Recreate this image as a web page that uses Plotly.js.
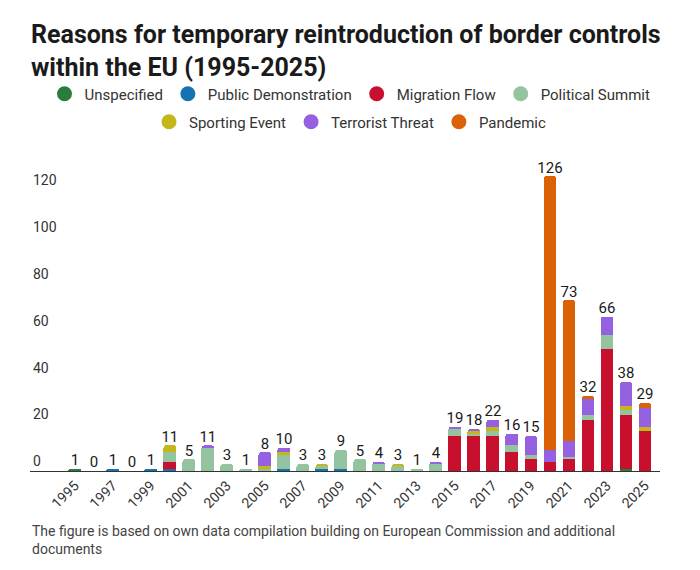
<!DOCTYPE html>
<html>
<head>
<meta charset="utf-8">
<script src="https://cdn.plot.ly/plotly-3.0.1.min.js"></script>
<style>html,body{margin:0;padding:0;background:#fff;}#chart{width:700px;height:570px;}</style>
</head>
<body>
<div id="chart"></div>
<script>
// Years 1995..2025
const years = [1995,1996,1997,1998,1999,2000,2001,2002,2003,2004,2005,2006,2007,2008,2009,2010,2011,2012,2013,2014,2015,2016,2017,2018,2019,2020,2021,2022,2023,2024,2025];
//                    95 96 97 98 99 00 01 02 03 04 05 06 07 08 09 10 11 12 13 14 15 16 17 18 19 20  21 22 23 24 25
const unspecified   = [1, 0, 0, 0, 0, 0, 0, 0, 0, 0, 0, 0, 0, 0, 0, 0, 0, 0, 0, 0, 0, 0, 0, 0, 0, 0,  0, 0, 0, 1, 0];
const demonstration = [0, 0, 1, 0, 1, 1, 0, 0, 0, 0, 0, 1, 0, 1, 1, 0, 0, 0, 0, 0, 0, 0, 0, 0, 0, 0,  0, 0, 0, 0, 0];
const migration     = [0, 0, 0, 0, 0, 3, 0, 0, 0, 0, 0, 0, 0, 0, 0, 0, 0, 0, 0, 0,15,15,15, 8, 5, 4,  5,22,52,23,17];
const summit        = [0, 0, 0, 0, 0, 4, 5,10, 3, 1, 1, 6, 3, 1, 8, 5, 3, 2, 1, 3, 3, 1, 2, 3, 2, 0,  1, 2, 6, 2, 0];
const sporting      = [0, 0, 0, 0, 0, 3, 0, 0, 0, 0, 1, 1, 0, 1, 0, 0, 0, 1, 0, 0, 0, 1, 2, 0, 0, 0,  0, 0, 0, 2, 2];
const terrorist     = [0, 0, 0, 0, 0, 0, 0, 1, 0, 0, 6, 2, 0, 0, 0, 0, 1, 0, 0, 1, 1, 1, 3, 5, 8, 5,  7, 7, 8,10, 8];
const pandemic      = [0, 0, 0, 0, 0, 0, 0, 0, 0, 0, 0, 0, 0, 0, 0, 0, 0, 0, 0, 0, 0, 0, 0, 0, 0,117,60, 1, 0, 0, 2];
const tickYears = [1995,1997,1999,2001,2003,2005,2007,2009,2011,2013,2015,2017,2019,2021,2023,2025];
const yTicks = [0,20,40,60,80,100,120];

const seriesNames = ['Unspecified','Public Demonstration','Migration Flow','Political Summit','Sporting Event','Terrorist Threat','Pandemic'];
const seriesData = [unspecified, demonstration, migration, summit, sporting, terrorist, pandemic];
const colors = ['#2a7c3c','#1473b0','#c8102e','#94c3a0','#c4b71c','#9561e0','#da6106'];
const legendRow = ['legend','legend','legend','legend','legend2','legend2','legend2'];

const totals = years.map((_, i) => seriesData.reduce((s, arr) => s + arr[i], 0));

const traces = [];
seriesData.forEach((arr, k) => {
  traces.push({
    type: 'bar', x: years, y: arr, name: seriesNames[k],
    marker: {color: colors[k], line: {width: 0}},
    showlegend: false, hoverinfo: 'x+y+name'
  });
});
seriesData.forEach((arr, k) => {
  traces.push({
    type: 'scatter', mode: 'markers', x: [null], y: [null], name: seriesNames[k],
    marker: {color: colors[k], size: 15, symbol: 'circle'},
    showlegend: true, legend: legendRow[k], hoverinfo: 'skip'
  });
});
traces.push({
  type: 'scatter', mode: 'text', x: years, y: totals, text: totals.map(String),
  textposition: 'top center', textfont: {family: 'Roboto', size: 15, color: '#1a1a1a'},
  showlegend: false, hoverinfo: 'skip', cliponaxis: false
});

const legendBase = {
  orientation: 'h', xref: 'container', yref: 'container',
  x: 0.5, xanchor: 'center', yanchor: 'middle',
  font: {family: 'Roboto', size: 15, color: '#333'},
  traceorder: 'normal', itemclick: false, itemdoubleclick: false
};

const layout = {
  width: 700, height: 570,
  paper_bgcolor: '#fff', plot_bgcolor: '#fff',
  font: {family: 'Roboto, sans-serif', color: '#333'},
  margin: {l: 30, r: 40, t: 167, b: 99},
  barmode: 'stack', bargap: 0.32, barcornerradius: 3,
  title: {
    text: 'Reasons for temporary reintroduction of border controls<br>within the EU (1995-2025)',
    x: 31/700, xanchor: 'left', xref: 'container',
    y: 1 - 43/570, yanchor: 'middle', yref: 'container',
    font: {family: 'Roboto', size: 25, color: '#1a1a1a', weight: 'bold'}
  },
  legend: Object.assign({}, legendBase, {y: 1 - 94/570}),
  legend2: Object.assign({}, legendBase, {y: 1 - 122/570}),
  xaxis: {
    range: [1992.64, 2025.79], tickvals: tickYears, ticktext: tickYears.map(String),
    tickangle: -45, tickfont: {family: 'Roboto', size: 14, color: '#333'},
    showgrid: false, zeroline: false, showline: true, linecolor: '#333', linewidth: 1,
    ticks: '', fixedrange: true
  },
  yaxis: {
    range: [0, 130], tickvals: yTicks, ticktext: yTicks.map(String),
    ticklabelposition: 'inside top',
    tickfont: {family: 'Roboto', size: 14, color: '#333'},
    showgrid: false, zeroline: false, showline: false, ticks: '', fixedrange: true
  },
  annotations: [{
    xref: 'paper', yref: 'paper', x: 0, y: -0.165, xanchor: 'left', yanchor: 'top',
    align: 'left', showarrow: false,
    text: 'The figure is based on own data compilation building on European Commission and additional<br>documents',
    font: {family: 'Roboto', size: 14, color: '#444'}
  }]
};

Plotly.newPlot('chart', traces, layout, {displayModeBar: false, staticPlot: true});
</script>
</body>
</html>
